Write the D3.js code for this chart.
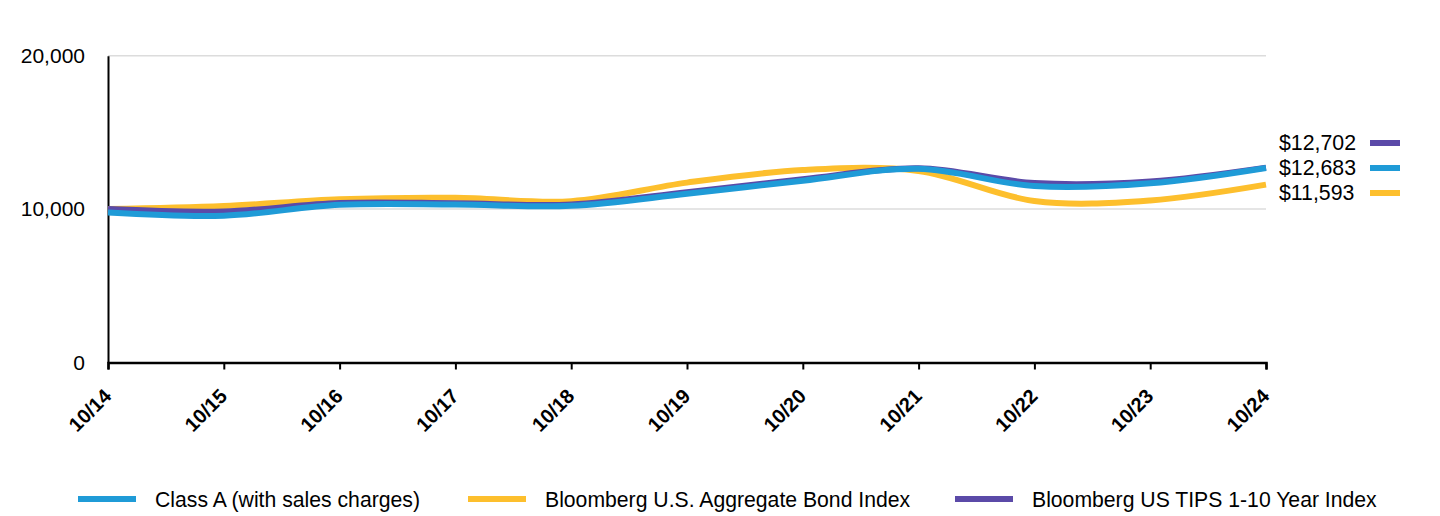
<!DOCTYPE html>
<html>
<head>
<meta charset="utf-8">
<script src="https://cdn.jsdelivr.net/npm/d3@7"></script>
<style>
  html, body { margin: 0; padding: 0; background: #fff; }
  svg { display: block; font-family: "Liberation Sans", Arial, sans-serif; }
</style>
</head>
<body>
<svg id="chart" width="1440" height="516"></svg>
<script>
// ---- data ----
const categories = ["10/14","10/15","10/16","10/17","10/18","10/19","10/20","10/21","10/22","10/23","10/24"];
const classA = [9775, 9570, 10280, 10300, 10220, 11000, 11850, 12630, 11500, 11680, 12683];
const aggBond = [10000, 10196, 10641, 10737, 10517, 11727, 12546, 12486, 10528, 10566, 11593];
const tips = [10000, 9850, 10400, 10380, 10300, 11100, 11950, 12660, 11700, 11800, 12702];
const yTicks = [0, 10000, 20000];
const seriesNames = ["Class A (with sales charges)", "Bloomberg U.S. Aggregate Bond Index", "Bloomberg US TIPS 1-10 Year Index"];
const endLabels = ["$12,702", "$12,683", "$11,593"];

const colors = { classA: "#1f9bd7", agg: "#fdbf2d", tips: "#5b4aa8" };

const svg = d3.select("#chart");
const x = d3.scalePoint().domain(categories).range([108, 1266]);
const y = d3.scaleLinear().domain([0, 20000]).range([362.5, 55.7]);

// gridlines
svg.append("g").selectAll("line").data(yTicks.filter(d => d > 0)).join("line")
  .attr("x1", 108).attr("x2", 1266)
  .attr("y1", d => y(d)).attr("y2", d => y(d))
  .attr("stroke", "#dcdcdc").attr("stroke-width", 1.5);

// y axis
const yAxis = svg.append("g").attr("transform", "translate(108,0)")
  .call(d3.axisLeft(y).tickValues(yTicks).tickSize(0).tickPadding(23).tickFormat(d3.format(",")));
yAxis.select(".domain").attr("stroke", "#000").attr("stroke-width", 2);
yAxis.selectAll("text").attr("font-size", 21).attr("fill", "#000")
  .attr("font-family", "Liberation Sans, Arial, sans-serif");

// x axis
const xAxis = svg.append("g").attr("transform", "translate(0,362.5)")
  .call(d3.axisBottom(x).tickSize(7).tickSizeOuter(7));
xAxis.select(".domain").attr("stroke", "#000").attr("stroke-width", 2.5);
xAxis.selectAll(".tick line").attr("stroke", "#000").attr("stroke-width", 2);
xAxis.selectAll("text")
  .attr("font-size", 20).attr("font-weight", "bold").attr("fill", "#000")
  .attr("font-family", "Liberation Sans, Arial, sans-serif")
  .attr("text-anchor", "end")
  .attr("dy", null).attr("y", null)
  .attr("transform", "translate(4,35) rotate(-45)");

// lines
const line = d3.line().x((d, i) => x(categories[i])).y(d => y(d)).curve(d3.curveCardinal.tension(0));
const drawOrder = [[aggBond, colors.agg], [tips, colors.tips], [classA, colors.classA]];
svg.append("g").selectAll("path").data(drawOrder).join("path")
  .attr("d", d => line(d[0]))
  .attr("fill", "none").attr("stroke", d => d[1]).attr("stroke-width", 6)
  .attr("stroke-linejoin", "round");

// end labels
const endColors = [colors.tips, colors.classA, colors.agg];
const endG = svg.append("g");
endLabels.forEach((t, i) => {
  const yy = 143 + i * 25;
  endG.append("text").attr("x", 1279).attr("y", yy + 7).text(t)
    .attr("font-size", 21.3).attr("fill", "#000");
  endG.append("line").attr("x1", 1370).attr("x2", 1400).attr("y1", yy).attr("y2", yy)
    .attr("stroke", endColors[i]).attr("stroke-width", 6);
});

// legend
const legendItems = [
  { name: seriesNames[0], color: colors.classA, x: 78 },
  { name: seriesNames[1], color: colors.agg, x: 468 },
  { name: seriesNames[2], color: colors.tips, x: 955 }
];
const lg = svg.append("g");
legendItems.forEach(it => {
  lg.append("line").attr("x1", it.x).attr("x2", it.x + 58).attr("y1", 499).attr("y2", 499)
    .attr("stroke", it.color).attr("stroke-width", 6);
  lg.append("text").attr("x", it.x + 77).attr("y", 507).text(it.name)
    .attr("font-size", 21.2).attr("fill", "#000");
});
</script>
</body>
</html>
